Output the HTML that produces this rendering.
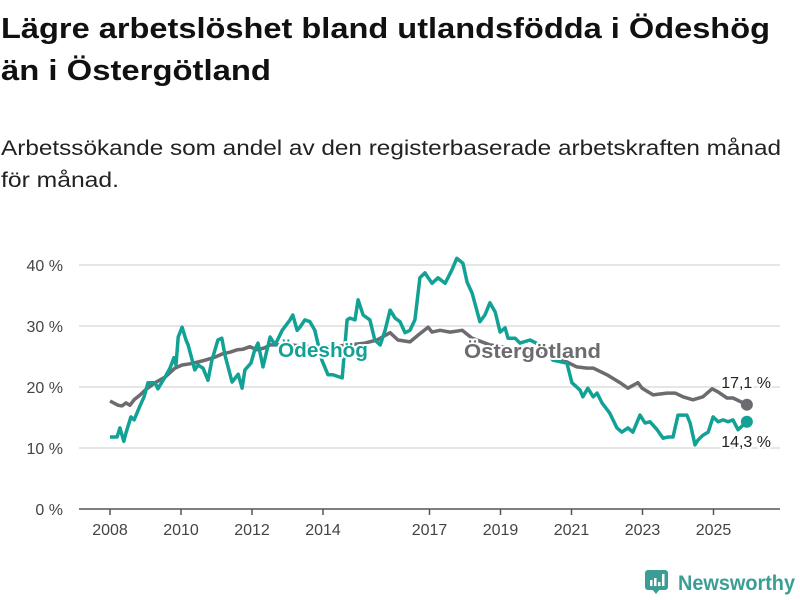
<!DOCTYPE html>
<html><head><meta charset="utf-8"><style>
html,body{margin:0;padding:0;background:#fff;width:800px;height:600px;overflow:hidden}
svg{display:block;font-family:"Liberation Sans","DejaVu Sans",sans-serif}
</style></head><body>
<svg id="chart" width="800" height="600" viewBox="0 0 800 600">
<text x="1" y="38" font-size="29" font-weight="bold" fill="#111" textLength="769" lengthAdjust="spacingAndGlyphs">Lägre arbetslöshet bland utlandsfödda i Ödeshög</text>
<text x="1" y="80" font-size="29" font-weight="bold" fill="#111" textLength="270" lengthAdjust="spacingAndGlyphs">än i Östergötland</text>
<text x="1" y="155" font-size="21" fill="#222" textLength="780" lengthAdjust="spacingAndGlyphs">Arbetssökande som andel av den registerbaserade arbetskraften månad</text>
<text x="1" y="187" font-size="21" fill="#222" textLength="118" lengthAdjust="spacingAndGlyphs">för månad.</text>
<g id="grid"></g>
<g id="series"></g>
<g id="labels"></g>
<g>
<rect x="645" y="570" width="23" height="20" rx="3" fill="#3a9e94"/>
<path d="M652 589 L656 594 L660 589 Z" fill="#3a9e94"/>
<rect x="650" y="580" width="2.5" height="6" fill="#fff"/><rect x="654" y="578" width="2.5" height="8" fill="#fff"/><rect x="658" y="582" width="2.5" height="4" fill="#fff"/><rect x="662" y="574" width="2.5" height="12" fill="#fff"/>
<text x="678" y="590" font-size="21" font-weight="bold" fill="#3a9e94" textLength="117" lengthAdjust="spacingAndGlyphs">Newsworthy</text>
</g>
</svg>
<script>
const yTicks=[0,10,20,30,40];
const yTickLabels=["0 %","10 %","20 %","30 %","40 %"];
const xTicks=[2008,2010,2012,2014,2017,2019,2021,2023,2025];
const odeDates=[2008.00,2008.20,2008.28,2008.39,2008.45,2008.59,2008.68,2008.85,2008.96,2009.07,2009.27,2009.35,2009.55,2009.69,2009.80,2009.86,2009.92,2010.03,2010.14,2010.20,2010.39,2010.48,2010.62,2010.76,2010.87,2011.04,2011.15,2011.24,2011.44,2011.61,2011.72,2011.80,2011.97,2012.08,2012.17,2012.31,2012.51,2012.65,2012.85,2013.07,2013.15,2013.27,2013.35,2013.49,2013.63,2013.77,2013.97,2014.14,2014.28,2014.54,2014.68,2014.76,2014.90,2014.99,2015.13,2015.32,2015.46,2015.61,2015.75,2015.89,2016.03,2016.17,2016.31,2016.45,2016.59,2016.73,2016.87,2017.07,2017.24,2017.44,2017.63,2017.77,2017.94,2018.06,2018.20,2018.42,2018.56,2018.70,2018.85,2018.99,2019.13,2019.21,2019.41,2019.55,2019.83,2020.11,2020.48,2020.87,2021.01,2021.24,2021.32,2021.46,2021.61,2021.72,2021.86,2022.08,2022.28,2022.42,2022.59,2022.73,2022.93,2023.07,2023.21,2023.41,2023.58,2023.72,2023.86,2024.00,2024.25,2024.34,2024.48,2024.56,2024.70,2024.85,2024.99,2025.13,2025.27,2025.41,2025.55,2025.69,2025.94];
const odeValues=[11.8,11.8,13.3,11.1,12.5,15.1,14.6,17.0,18.4,20.7,20.7,19.7,21.6,23.1,24.8,23.6,28.2,29.8,27.7,26.9,22.8,23.6,23.1,21.1,24.4,27.7,28.0,25.2,20.8,22.1,19.8,22.8,23.9,26.1,27.2,23.3,28.2,26.9,29.3,31.0,31.8,29.3,29.8,31.0,30.7,29.3,24.4,22.0,22.0,21.5,31.0,31.3,31.0,34.3,31.8,31.0,27.7,26.9,29.3,32.6,31.3,30.7,28.9,29.3,31.0,37.9,38.7,37.0,37.9,37.0,39.2,41.1,40.3,37.2,35.4,30.7,31.8,33.8,32.3,29.0,29.7,28.0,28.0,27.2,27.7,26.9,24.4,23.9,20.7,19.5,18.4,19.8,18.4,19.0,17.4,15.7,13.3,12.6,13.3,12.6,15.4,14.1,14.3,13.0,11.6,11.8,11.8,15.4,15.4,14.1,10.5,11.3,12.1,12.6,15.1,14.3,14.6,14.3,14.6,13.0,14.3];
const ostDates=[2008.00,2008.23,2008.34,2008.45,2008.56,2008.68,2008.85,2008.99,2009.27,2009.55,2009.83,2010.03,2010.25,2010.48,2010.68,2010.96,2011.15,2011.38,2011.58,2011.75,2011.94,2012.14,2012.34,2012.51,2013.07,2013.63,2014.20,2014.76,2015.18,2015.52,2015.89,2016.11,2016.45,2016.68,2016.96,2017.07,2017.30,2017.58,2017.92,2018.20,2018.70,2019.55,2020.39,2020.87,2021.15,2021.44,2021.61,2022.00,2022.37,2022.59,2022.87,2022.99,2023.30,2023.69,2023.92,2024.14,2024.42,2024.70,2024.96,2025.13,2025.38,2025.55,2025.94];
const ostValues=[17.7,17.0,16.9,17.4,17.0,17.9,18.7,19.5,20.7,21.6,23.1,23.6,23.8,24.1,24.4,24.9,25.4,25.7,26.1,26.2,26.6,26.1,26.4,26.9,26.9,26.6,26.6,26.9,27.2,27.7,28.9,27.7,27.4,28.5,29.8,29.0,29.3,29.0,29.3,28.0,26.9,26.1,25.2,24.1,23.3,23.1,23.1,22.0,20.7,19.8,20.7,19.8,18.7,19.0,19.0,18.4,17.9,18.4,19.7,19.2,18.2,18.2,17.1];
const NS='http://www.w3.org/2000/svg';
const x=t=>110+(t-2008)*35.5;
const y=v=>509-v*6.1;
function mk(tag,attrs,parent){const e=document.createElementNS(NS,tag);for(const k in attrs)e.setAttribute(k,attrs[k]);parent.appendChild(e);return e;}
const grid=document.getElementById('grid');
yTicks.forEach((v,i)=>{
  if(v>0){const l=mk('line',{x1:79,x2:780,y1:y(v),y2:y(v),stroke:'#dedede','stroke-width':1.5},grid);
  
  }
  const t=mk('text',{x:63,y:y(v)+6,'text-anchor':'end','font-size':16,fill:'#444'},grid);
  t.textContent=yTickLabels[i];
  
  
});
const ax=mk('line',{x1:79,x2:780,y1:509,y2:509,stroke:'#555','stroke-width':1.5},grid);


xTicks.forEach(t=>{
  mk('line',{x1:x(t),x2:x(t),y1:509,y2:515,stroke:'#555','stroke-width':1.5},grid);
  const tx=mk('text',{x:x(t),y:535,'text-anchor':'middle','font-size':16,fill:'#444'},grid);
  tx.textContent=t;
  
  
});
const S=document.getElementById('series');
function line(d,v,col,name){
  const p=mk('path',{d:d.map((t,i)=>(i?'L':'M')+x(t).toFixed(1)+' '+y(v[i]).toFixed(1)).join(' '),fill:'none',stroke:col,'stroke-width':3.5,'stroke-linejoin':'round'},S);
  
  
  const n=d.length-1;
  const c=mk('circle',{cx:x(d[n]),cy:y(v[n]),r:6,fill:col},S);
  
  
}
line(ostDates,ostValues,'#6d6a70','ostergotland-line');
line(odeDates,odeValues,'#12a195','odeshog-line');
const L=document.getElementById('labels');
function lab(tx,xx,yy,col,size,bold,anchor,name,len){
  const a={x:xx,y:yy,fill:col,'font-size':size,'font-weight':bold?'bold':'normal','text-anchor':anchor,stroke:'#fff','stroke-width':4,'paint-order':'stroke','stroke-linejoin':'round'};
  if(len){a.textLength=len;a.lengthAdjust='spacingAndGlyphs';}
  const t=mk('text',a,L);
  t.textContent=tx;
  
  
}
lab('Ödeshög',278,357,'#12a195',20,true,'start','odeshog-series-label',90);
lab('Östergötland',464,358,'#6d6a70',20,true,'start','ostergotland-series-label',137);
lab('17,1 %',771,388,'#222',16,false,'end','ostergotland-value-label');
lab('14,3 %',771,447,'#222',16,false,'end','odeshog-value-label');
</script>
</body></html>
